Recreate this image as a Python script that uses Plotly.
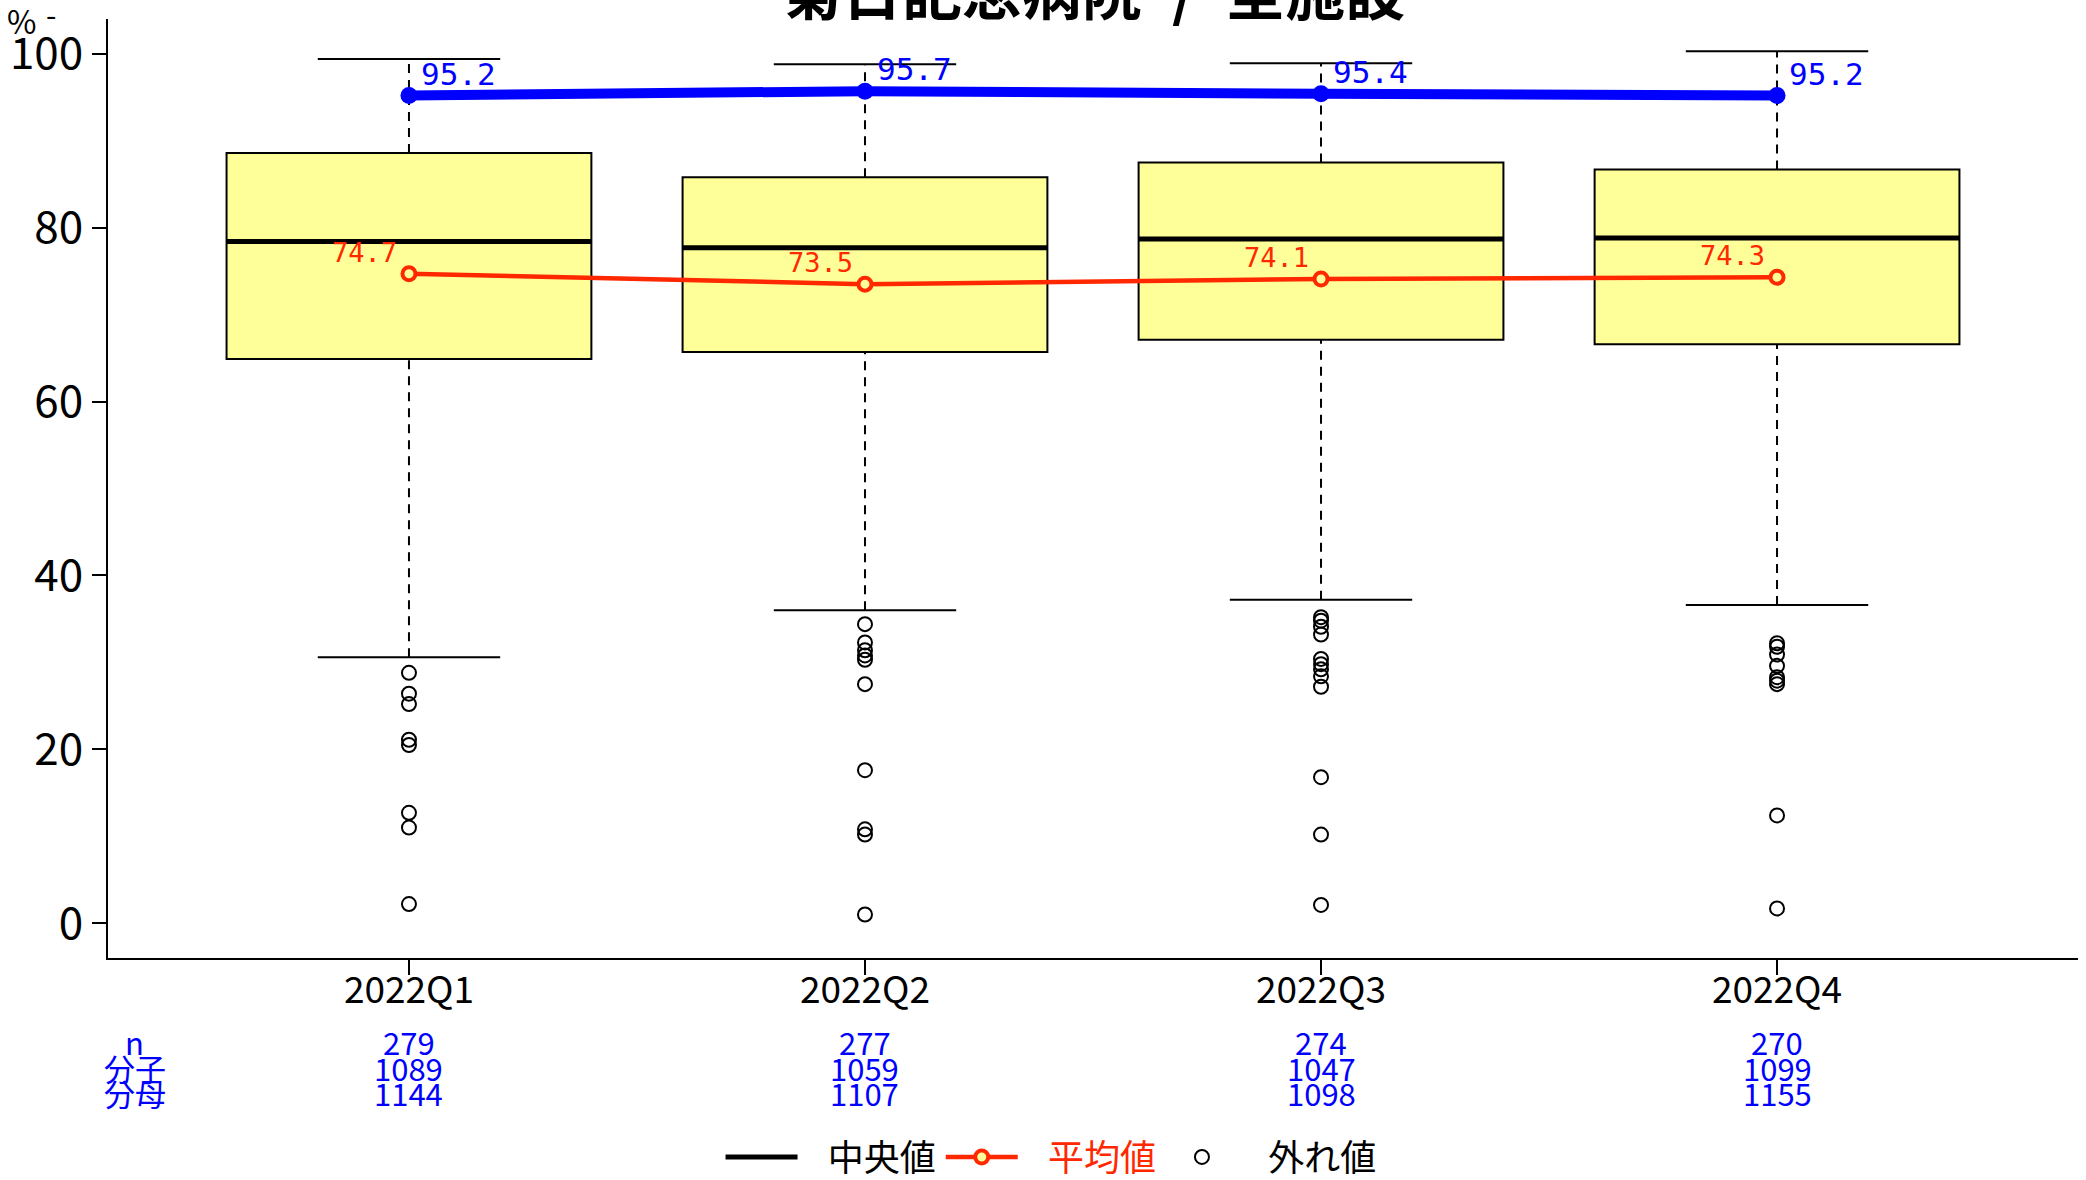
import plotly.graph_objects as go

quarters = ["2022Q1", "2022Q2", "2022Q3", "2022Q4"]
pos = [1, 2, 3, 4]

q1 = [64.9, 65.7, 67.1, 66.6]
median = [78.4, 77.7, 78.7, 78.8]
q3 = [88.6, 85.8, 87.5, 86.7]
whisker_low = [30.6, 36.0, 37.2, 36.6]
whisker_high = [99.4, 98.8, 98.9, 100.3]

outliers = [
    [28.8, 26.4, 25.2, 21.1, 20.5, 12.7, 11.0, 2.2],
    [34.4, 32.3, 31.4, 30.8, 30.3, 27.5, 17.6, 10.8, 10.2, 1.0],
    [35.2, 34.8, 34.1, 33.2, 30.4, 29.8, 29.2, 28.4, 27.2, 16.8, 10.2, 2.1],
    [32.2, 31.8, 30.9, 29.6, 28.3, 27.9, 27.5, 12.4, 1.7],
]

mean_vals = [74.7, 73.5, 74.1, 74.3]
blue_vals = [95.2, 95.7, 95.4, 95.2]

n_vals = [279, 277, 274, 270]
numer = [1089, 1059, 1047, 1099]
denom = [1144, 1107, 1098, 1155]

title = "菊日記念病院\u2002/\u2002全施設"

BOX_W = 0.8
CAP_W = 0.4
RED = "#FF2800"
BLUE = "#0000FF"
FONT = "Noto Sans CJK JP, sans-serif"
MONO = "DejaVu Sans Mono, monospace"
PAD = "\u2002\u2009"  # gap between legend symbol and text

fig = go.Figure()

# boxes (whiskers drawn separately)
fig.add_trace(go.Box(
    x=pos, q1=q1, median=median, q3=q3, lowerfence=q1, upperfence=q3,
    width=BOX_W, fillcolor="#FFFF99", line=dict(color="black", width=2),
    whiskerwidth=0, showlegend=False, hoverinfo="skip",
))

# dashed whiskers
wx, wy = [], []
for p, lo, a, b, hi in zip(pos, whisker_low, q1, q3, whisker_high):
    wx += [p, p, None, p, p, None]
    wy += [lo, a, None, b, hi, None]
fig.add_trace(go.Scatter(x=wx, y=wy, mode="lines", showlegend=False, hoverinfo="skip",
                         line=dict(color="black", width=2, dash="9px,7px")))

# whisker caps
cx, cy = [], []
for p, lo, hi in zip(pos, whisker_low, whisker_high):
    cx += [p - CAP_W / 2, p + CAP_W / 2, None, p - CAP_W / 2, p + CAP_W / 2, None]
    cy += [lo, lo, None, hi, hi, None]
fig.add_trace(go.Scatter(x=cx, y=cy, mode="lines", showlegend=False, hoverinfo="skip",
                         line=dict(color="black", width=2)))

# medians
mx, my = [], []
for p, m in zip(pos, median):
    mx += [p - BOX_W / 2, p + BOX_W / 2, None]
    my += [m, m, None]
fig.add_trace(go.Scatter(x=mx, y=my, mode="lines", name=PAD + "中央値", legendrank=1,
                         line=dict(color="black", width=5), hoverinfo="skip"))

# outliers
ox, oy = [], []
for p, vals in zip(pos, outliers):
    ox += [p] * len(vals)
    oy += vals
fig.add_trace(go.Scatter(x=ox, y=oy, mode="markers", name=PAD + "外れ値", legendrank=3,
                         marker=dict(symbol="circle-open", size=14, color="black",
                                     line=dict(width=2, color="black"))))

# mean line
fig.add_trace(go.Scatter(x=pos, y=mean_vals, mode="lines+markers", legendrank=2,
                         name=PAD + f"<span style='color:{RED}'>平均値</span>",
                         line=dict(color=RED, width=4.5),
                         marker=dict(symbol="circle", size=13, color="#FFFF99",
                                     line=dict(color=RED, width=4))))

# blue line
fig.add_trace(go.Scatter(x=pos, y=blue_vals, mode="lines+markers", showlegend=False,
                         line=dict(color=BLUE, width=10),
                         marker=dict(size=17, color=BLUE)))

ann = []
for p, v in zip(pos, blue_vals):
    ann.append(dict(x=p, y=v, xref="x", yref="y", text=f"{v:.1f}", showarrow=False,
                    xanchor="left", yanchor="bottom", xshift=10, yshift=2,
                    font=dict(family=MONO, size=31, color=BLUE)))
for p, v in zip(pos, mean_vals):
    ann.append(dict(x=p, y=v, xref="x", yref="y", text=f"{v:.1f}", showarrow=False,
                    xanchor="right", yanchor="bottom", xshift=-10, yshift=4,
                    font=dict(family=MONO, size=27, color=RED)))

rows = [("n", n_vals, -0.0886), ("分子", numer, -0.1163), ("分母", denom, -0.1429)]
for label, vals, yy in rows:
    ann.append(dict(x=0.0137, y=yy, xref="paper", yref="paper", text=label, showarrow=False,
                    xanchor="center", yanchor="middle",
                    font=dict(family=FONT, size=31, color=BLUE)))
    for p, v in zip(pos, vals):
        ann.append(dict(x=p, y=yy, xref="x", yref="paper", text=str(v), showarrow=False,
                        xanchor="center", yanchor="middle",
                        font=dict(family=FONT, size=31, color=BLUE)))

ann.append(dict(x=0.5, y=0.984, xref="paper", yref="paper", text=f"<b>{title}</b>",
                showarrow=False, xanchor="center", yanchor="bottom",
                font=dict(family=FONT, size=60, color="black")))
ann.append(dict(x=0, y=0.999, xref="paper", yref="paper", text="%", showarrow=False,
                xanchor="center", yanchor="middle", xshift=-87,
                font=dict(family=FONT, size=32, color="black")))
ann.append(dict(x=0, y=1.006, xref="paper", yref="paper", text="-", showarrow=False,
                xanchor="center", yanchor="middle", xshift=-57,
                font=dict(family=FONT, size=30, color="black")))

fig.update_layout(
    width=2086, height=1180,
    margin=dict(l=108, r=8, t=19, b=222, autoexpand=False),
    plot_bgcolor="white", paper_bgcolor="white",
    font=dict(family=FONT, color="black"),
    annotations=ann,
    showlegend=True,
    legend=dict(orientation="h", x=0.4787, xanchor="center", y=-0.212, yanchor="middle",
                font=dict(family=FONT, size=36, color="black"), itemwidth=72,
                bgcolor="rgba(0,0,0,0)"),
    xaxis=dict(range=[0.34, 4.66], tickvals=pos, ticktext=quarters, showgrid=False,
               zeroline=False, showline=True, linecolor="black", linewidth=2,
               ticks="outside", ticklen=15, tickwidth=1.5, tickcolor="black",
               ticklabelstandoff=-16,
               tickfont=dict(family=FONT, size=37, color="black")),
    yaxis=dict(range=[-4, 104], tickvals=[0, 20, 40, 60, 80, 100], showgrid=False,
               zeroline=False, showline=True, linecolor="black", linewidth=2,
               ticks="outside", ticklen=14, tickwidth=1.5, tickcolor="black",
               tickfont=dict(family=FONT, size=44, color="black")),
)

# the page body has a default 8px margin; drop it so the figure fills the window
fig.write_html("out.html", config={"displayModeBar": False},
               post_script="document.body.style.margin = '0';")
